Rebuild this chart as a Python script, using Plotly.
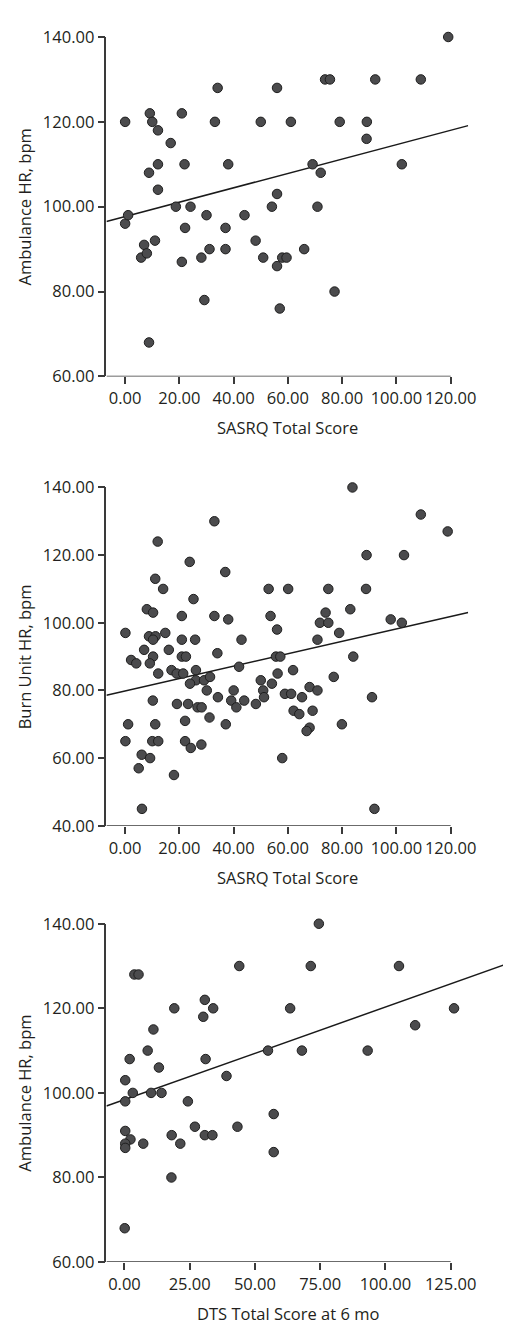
import numpy as np
import plotly.graph_objects as go

# ---------------- data ----------------
# Panel 1: Ambulance HR vs SASRQ total score
sasrq_1 = [0.0, 0.0, 1.1, 9.1, 10.0, 12.1, 16.8, 12.1, 8.8, 12.1, 5.9, 7.0, 8.0, 11.0,
           8.8, 18.7, 20.9, 21.9, 24.1, 22.1, 20.9, 28.1, 30.0, 31.1, 29.2, 34.1, 33.1,
           38.0, 37.0, 37.0, 44.0, 48.1, 50.0, 50.9, 54.1, 56.0, 56.0, 56.0, 57.0, 57.9,
           59.5, 61.1, 66.0, 69.1, 72.1, 70.9, 73.7, 75.5, 79.1, 77.2, 89.1, 89.0, 92.2,
           102.0, 109.0, 119.1]
amb_hr_1 = [120, 96, 98, 122, 120, 118, 115, 110, 108, 104, 88, 91, 89, 92,
            68, 100, 122, 110, 100, 95, 87, 88, 98, 90, 78, 128, 120,
            110, 95, 90, 98, 92, 120, 88, 100, 128, 103, 86, 76, 88,
            88, 120, 90, 110, 108, 100, 130, 130, 120, 80, 120, 116, 130,
            110, 130, 140]

# Panel 2: Burn unit HR vs SASRQ total score
sasrq_2 = [32.9, 12.0, 23.8, 36.9, 11.1, 14.0, 52.9, 60.1, 25.2, 8.0, 10.3, 20.9, 32.9,
           38.0, 53.6, 56.0, 0.1, 14.8, 8.8, 11.2, 10.3, 20.9, 25.8, 42.9, 7.0, 16.1,
           10.3, 2.2, 4.1, 9.1, 20.9, 22.4, 34.0, 55.6, 57.2, 42.0, 61.9, 12.2, 17.1,
           19.0, 21.4, 26.1, 56.2, 26.1, 23.9, 29.1, 31.3, 50.0, 54.1, 30.1, 40.0, 50.9,
           34.2, 39.1, 41.0, 43.9, 48.2, 51.2, 58.9, 61.2, 65.2, 10.2, 19.1, 23.2, 26.7,
           28.2, 31.1, 22.1, 37.1, 1.1, 11.1, 62.1, 64.2, 0.1, 10.0, 12.2, 22.1, 24.2,
           28.1, 6.1, 9.2, 5.0, 18.0, 57.9, 6.2,
           83.8, 109.0, 118.9, 89.0, 102.8, 74.9, 88.8, 73.9, 83.0, 71.8, 74.9, 97.9,
           102.0, 78.9, 70.9, 84.1, 76.9, 68.0, 70.9, 69.1, 68.0, 66.9, 91.0, 79.9, 91.9]
burn_hr_2 = [130, 124, 118, 115, 113, 110, 110, 110, 107, 104, 103, 102, 102,
             101, 102, 98, 97, 97, 96, 96, 95, 95, 95, 95, 92, 92,
             90, 89, 88, 88, 90, 90, 91, 90, 90, 87, 86, 85, 86,
             85, 85, 86, 85, 83, 82, 83, 84, 83, 82, 80, 80, 80,
             78, 77, 75, 77, 76, 78, 79, 79, 78, 77, 76, 76, 75,
             75, 72, 71, 70, 70, 70, 74, 73, 65, 65, 65, 65, 63,
             64, 61, 60, 57, 55, 60, 45,
             140, 132, 127, 120, 120, 110, 110, 103, 104, 100, 100, 101,
             100, 97, 95, 90, 84, 81, 80, 74, 69, 68, 78, 70, 45]

# Panel 3: Ambulance HR vs DTS total score at 6 months
dts_3 = [44.0, 3.8, 5.4, 30.8, 19.1, 34.0, 30.2, 63.5, 11.1, 8.9, 2.0, 31.1, 55.0, 68.0,
         13.2, 39.1, 0.3, 3.2, 10.2, 14.2, 0.3, 24.3, 57.2, 0.3, 27.0, 43.3, 18.1, 30.8,
         33.7, 2.3, 0.3, 0.3, 7.2, 21.4, 57.2, 18.0, 0.1, 74.5, 71.4, 105.2, 126.3, 111.4,
         93.2]
amb_hr_3 = [130, 128, 128, 122, 120, 120, 118, 120, 115, 110, 108, 108, 110, 110,
            106, 104, 103, 100, 100, 100, 98, 98, 95, 91, 92, 92, 90, 90,
            90, 89, 88, 87, 88, 88, 86, 80, 68, 140, 130, 130, 120, 116,
            110]

# fitted regression lines as drawn in the reference (intercept, slope per panel)
fit_intercept = [97.67, 79.83, 98.4]
fit_slope = [0.1695, 0.1836, 0.219]

# tick values
x_ticks_sasrq = [0, 20, 40, 60, 80, 100, 120]
x_ticks_dts = [0, 25, 50, 75, 100, 125]
y_ticks_amb = [60, 80, 100, 120, 140]
y_ticks_burn = [40, 60, 80, 100, 120, 140]

# ---------------- layout geometry ----------------
W, H = 511, 1325
TXT = "#231f20"
AX = "#3a3a3a"
FONT = "Open Sans"
FS = 16.5


def px_x(p):
    return p / W


def px_y(p):
    return 1 - p / H


panels = [
    dict(x=sasrq_1, y=amb_hr_1, xt=x_ticks_sasrq, yt=y_ticks_amb,
         xdom=[px_x(100), px_x(467.5)], xr=[-6.895, 126.46],
         ydom=[px_y(362.7), px_y(17.3)],
         xtitle="SASRQ Total Score", ytitle="Ambulance HR, bpm", xt_y=415),
    dict(x=sasrq_2, y=burn_hr_2, xt=x_ticks_sasrq, yt=y_ticks_burn,
         xdom=[px_x(100), px_x(467.5)], xr=[-6.895, 126.46],
         ydom=[px_y(820), px_y(475.7)],
         xtitle="SASRQ Total Score", ytitle="Burn Unit HR, bpm", xt_y=873),
    dict(x=dts_3, y=amb_hr_3, xt=x_ticks_dts, yt=y_ticks_amb,
         xdom=[px_x(100), 1.0], xr=[-6.903, 148.13],
         ydom=[px_y(1264), px_y(919.7)],
         xtitle="DTS Total Score at 6 mo", ytitle="Ambulance HR, bpm", xt_y=1316.7),
]

fig = go.Figure()
shapes = []
annotations = []
layout_axes = {}

for i, p in enumerate(panels, start=1):
    xa = "x" if i == 1 else f"x{i}"
    ya = "y" if i == 1 else f"y{i}"
    xkey = "xaxis" if i == 1 else f"xaxis{i}"
    ykey = "yaxis" if i == 1 else f"yaxis{i}"

    xs = np.array(p["x"], dtype=float)
    ys = np.array(p["y"], dtype=float)
    assert len(xs) == len(ys)

    # regression line across the plotting frame
    fx = np.array(p["xr"])
    fy = fit_intercept[i - 1] + fit_slope[i - 1] * fx
    fig.add_trace(go.Scatter(x=fx, y=fy, mode="lines", xaxis=xa, yaxis=ya,
                             line=dict(color="#1a1a1a", width=1.5),
                             hoverinfo="skip", showlegend=False))

    fig.add_trace(go.Scatter(x=xs, y=ys, mode="markers", xaxis=xa, yaxis=ya,
                             marker=dict(size=9.5, color="#4b4b4d",
                                         line=dict(color="#1e1e1e", width=1)),
                             cliponaxis=False, showlegend=False))

    layout_axes[xkey] = dict(
        domain=p["xdom"], range=p["xr"], anchor=ya,
        tickmode="array", tickvals=p["xt"], tickformat=".2f",
        ticks="outside", ticklen=7, tickwidth=1.5, tickcolor=AX,
        showline=False, showgrid=False, zeroline=False,
        tickfont=dict(family=FONT, size=FS, color=TXT),
    )
    layout_axes[ykey] = dict(
        domain=p["ydom"], range=[min(p["yt"]), max(p["yt"])], anchor=xa,
        tickmode="array", tickvals=p["yt"], tickformat=".2f",
        ticks="outside", ticklen=7, tickwidth=1.5, tickcolor=AX,
        showline=True, linecolor=AX, linewidth=1.5,
        showgrid=False, zeroline=False,
        tickfont=dict(family=FONT, size=FS, color=TXT),
    )

    # x-axis line runs only from the frame start to the last tick
    shapes.append(dict(type="line", xref=xa, yref=ya,
                       x0=p["xr"][0], x1=max(p["xt"]),
                       y0=min(p["yt"]), y1=min(p["yt"]),
                       line=dict(color=AX, width=1.5)))

    annotations.append(dict(
        text=p["xtitle"], xref=xa, yref="paper",
        x=(min(p["xt"]) + max(p["xt"])) / 2, y=px_y(p["xt_y"]),
        xanchor="center", yanchor="middle", showarrow=False,
        font=dict(family=FONT, size=FS, color=TXT)))
    annotations.append(dict(
        text=p["ytitle"], xref="paper", yref="paper",
        x=px_x(17), y=(p["ydom"][0] + p["ydom"][1]) / 2, textangle=-90,
        xanchor="center", yanchor="middle", showarrow=False,
        font=dict(family=FONT, size=FS, color=TXT)))

fig.update_layout(
    width=W, height=H,
    margin=dict(l=0, r=0, t=0, b=0),
    paper_bgcolor="white", plot_bgcolor="white",
    shapes=shapes, annotations=annotations,
    showlegend=False,
    **layout_axes,
)

fig.write_html("out.html")
